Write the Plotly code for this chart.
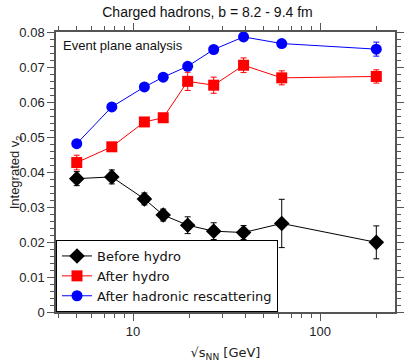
import plotly.graph_objects as go

# collision energies [GeV]
energies = [5.0, 7.7, 11.5, 14.5, 19.6, 27.0, 39.0, 62.4, 200.0]

v2_before = [0.0381, 0.0386, 0.0323, 0.0277, 0.0248, 0.0231, 0.0227, 0.0253, 0.0199]
err_before = [0.0020, 0.0020, 0.0017, 0.0017, 0.0024, 0.0024, 0.0020, 0.0069, 0.0047]

v2_hydro = [0.0427, 0.0472, 0.0543, 0.0555, 0.0659, 0.0648, 0.0705, 0.0669, 0.0673]
err_hydro = [0.0021, 0.0012, 0.0008, 0.0008, 0.0026, 0.0023, 0.0021, 0.0020, 0.0019]

v2_after = [0.0481, 0.0586, 0.0643, 0.0671, 0.0702, 0.0750, 0.0786, 0.0767, 0.0751]
err_after = [0.0006, 0.0006, 0.0006, 0.0006, 0.0006, 0.0006, 0.0008, 0.0008, 0.0020]

minor_x = [4, 5, 6, 7, 8, 9, 20, 30, 40, 50, 60, 70, 80, 90, 200]

series = [
    ("Before hydro", v2_before, err_before, "black", "diamond", 12),
    ("After hydro", v2_hydro, err_hydro, "red", "square", 11),
    ("After hadronic rescattering", v2_after, err_after, "blue", "circle", 11),
]

fig = go.Figure()
for name, y, err, color, symbol, size in series:
    fig.add_trace(go.Scatter(
        x=energies, y=y, name=name, mode="lines+markers",
        line=dict(color=color, width=1),
        marker=dict(color=color, symbol=symbol, size=size),
        error_y=dict(type="data", array=err, color=color, thickness=1, width=3),
    ))

axis_common = dict(showline=True, linecolor="#555", linewidth=1.5, mirror="ticks",
                   ticks="outside", tickcolor="#555", showgrid=False, zeroline=False,
                   automargin=False,
                   tickfont=dict(family="Liberation Sans, Arial", size=13, color="#222"))

fig.update_xaxes(type="log", range=[0.588, 2.401], tickvals=[10, 100], ticklen=7,
                 minor=dict(tickvals=minor_x, ticks="outside", ticklen=4, tickcolor="#555"),
                 title=dict(text="√s<sub>NN</sub> [GeV]",
                            font=dict(family="DejaVu Sans", size=13, color="#222")),
                 **axis_common)
fig.update_yaxes(range=[0, 0.08], ticklen=7,
                 tickvals=[0, 0.01, 0.02, 0.03, 0.04, 0.05, 0.06, 0.07, 0.08],
                 ticktext=["0", "0.01", "0.02", "0.03", "0.04", "0.05", "0.06", "0.07", "0.08"],
                 minor=dict(dtick=0.002, ticks="outside", ticklen=4, tickcolor="#555"),
                 **axis_common)

# y title as a rotated annotation so it sits just left of the tick labels
fig.add_annotation(text="Integrated v<sub>2</sub>", xref="paper", yref="paper",
                   x=-0.12, y=0.5, xanchor="center", yanchor="middle", textangle=-90,
                   showarrow=False,
                   font=dict(family="Liberation Sans, Arial", size=13, color="#222"))

fig.add_annotation(text="Event plane analysis", xref="paper", yref="paper",
                   x=0.015, y=0.985, xanchor="left", yanchor="top", showarrow=False,
                   font=dict(family="Liberation Sans, Arial", size=13, color="#111"))

fig.update_layout(
    width=415, height=362,
    title=dict(text="Charged hadrons, b = 8.2 - 9.4 fm", x=0.5, xref="container",
               xanchor="center", y=0.967, yanchor="middle",
               font=dict(family="Liberation Sans, Arial", size=14, color="#111")),
    margin=dict(l=56, r=20, t=32, b=50),
    plot_bgcolor="white", paper_bgcolor="white",
    legend=dict(x=0, y=0, xanchor="left", yanchor="bottom", bgcolor="white",
                bordercolor="black", borderwidth=1, tracegroupgap=0,
                font=dict(family="DejaVu Sans", size=13, color="#111"),
                itemwidth=30),
    showlegend=True,
)

# drop the default 8px page margin so the figure fills the window
fig.write_html("out.html", config={"displayModeBar": False},
               post_script="document.body.style.margin = '0';")
